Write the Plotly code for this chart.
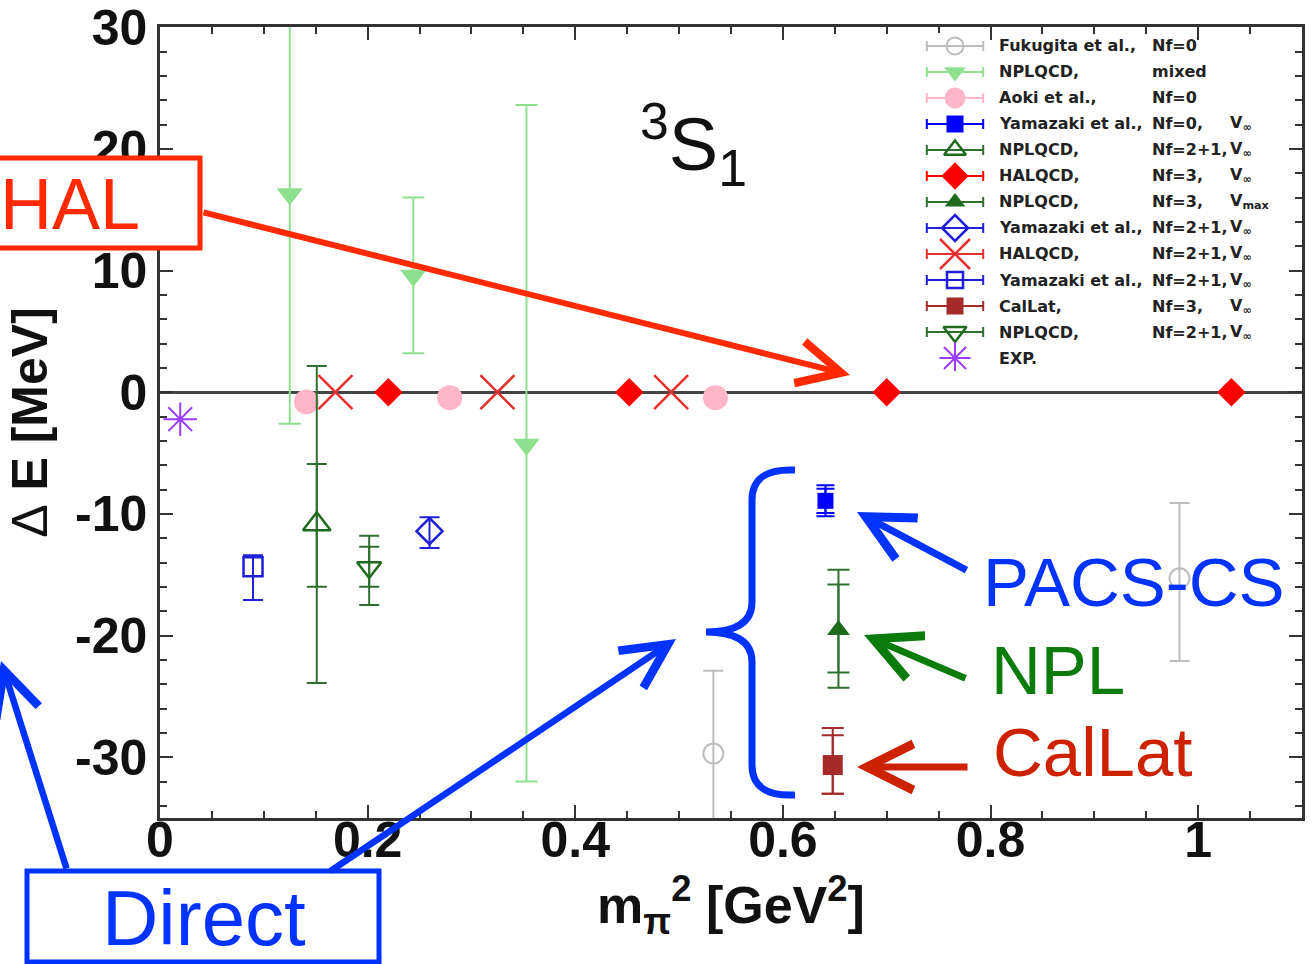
import plotly.graph_objects as go

# ---------------- data ----------------
# x: m_pi^2 [GeV^2], y: Delta E [MeV]
fuk_x = [0.533, 0.982]
fuk_y = [-29.7, -15.3]
fuk_ep = [6.8, 6.2]
fuk_em = [12.0, 6.8]

nplm_x = [0.125, 0.244, 0.353]
nplm_y = [16.3, 9.6, -4.3]
nplm_ep = [18.9, 6.4, 27.9]
nplm_em = [18.9, 6.4, 27.7]

aoki_x = [0.141, 0.279, 0.535]
aoki_y = [-0.8, -0.45, -0.45]

yam0_x = [0.641]
yam0_y = [-8.93]
yam0_ep = [1.29]
yam0_em = [1.27]
yam0_ep_st = [1.0]
yam0_em_st = [1.0]

npl21a_x = [0.151]
npl21a_y = [-10.85]
npl21a_ep = [13.0]
npl21a_em = [13.05]
npl21a_ep_st = [4.95]
npl21a_em_st = [5.15]

hal3_x = [0.220, 0.452, 0.700, 1.032]
hal3_y = [0.0, 0.0, 0.0, 0.0]

npl3_x = [0.6535]
npl3_y = [-19.55]
npl3_ep = [4.95]
npl3_em = [4.75]
npl3_ep_st = [3.75]
npl3_em_st = [3.5]

yam21d_x = [0.2596]
yam21d_y = [-11.42]
yam21d_ep = [1.15]
yam21d_em = [1.38]

hal21_x = [0.169, 0.325, 0.4923]
hal21_y = [0.0, 0.0, 0.0]

yam21s_x = [0.0896]
yam21s_y = [-14.34]
yam21s_ep = [0.94]
yam21s_em = [2.75]

callat_x = [0.648]
callat_y = [-30.65]
callat_ep = [3.05]
callat_em = [2.35]
callat_ep_st = [2.45]
callat_em_st = [2.35]

npl21b_x = [0.2015]
npl21b_y = [-14.4]
npl21b_ep = [2.6]
npl21b_em = [3.1]
npl21b_ep_st = [1.7]
npl21b_em_st = [1.6]

exp_x = [0.0195]
exp_y = [-2.22]

legend_names = ["Fukugita et al.,", "NPLQCD,", "Aoki et al.,", "Yamazaki et al.,",
                "NPLQCD,", "HALQCD,", "NPLQCD,", "Yamazaki et al.,", "HALQCD,",
                "Yamazaki et al.,", "CalLat,", "NPLQCD,", "EXP."]
legend_nf = ["Nf=0", "mixed", "Nf=0", "Nf=0,", "Nf=2+1,", "Nf=3,", "Nf=3,",
             "Nf=2+1,", "Nf=2+1,", "Nf=2+1,", "Nf=3,", "Nf=2+1,", ""]
legend_v = ["", "", "", "V<sub>∞</sub>", "V<sub>∞</sub>", "V<sub>∞</sub>", "V<sub>max</sub>",
            "V<sub>∞</sub>", "V<sub>∞</sub>", "V<sub>∞</sub>", "V<sub>∞</sub>", "V<sub>∞</sub>", ""]

x_range = [0, 1.1]
y_range = [-35, 30.02]
y_tickvals = [-30, -20, -10, 0, 10, 20, 30]
y_ticktext = ["-30", "-20", "-10", "0", "10", "20", "30"]

# ---------------- styles ----------------
GRAY = "#bdbdbd"
LGREEN = "#8ee08e"
PINK = "#ffb7c8"
BLUE = "#0000ff"
BLUE2 = "#1f1fd8"
DGREEN = "#1e6b1e"
DGREEN_E = "#2f6f2f"
RED = "#ff0000"
RED2 = "#e53030"
BROWN = "#a52a2a"
PURPLE = "#9b3dff"

series = [
    dict(x=fuk_x, y=fuk_y, ep=fuk_ep, em=fuk_em, sym="circle-open", size=20, col=GRAY, ecol=GRAY, lw=2, lsize=17, cap=10),
    dict(x=nplm_x, y=nplm_y, ep=nplm_ep, em=nplm_em, sym="triangle-down", size=23, col=LGREEN, ecol=LGREEN, lw=0, lsize=19, cap=11),
    dict(x=aoki_x, y=aoki_y, sym="circle", size=25, col=PINK, ecol=PINK, lw=0, lsize=21, cap=10),
    dict(x=yam0_x, y=yam0_y, ep=yam0_ep, em=yam0_em, eps=yam0_ep_st, ems=yam0_em_st, sym="square", size=16, col=BLUE, ecol=BLUE, lw=0, lsize=17, cap=9),
    dict(x=npl21a_x, y=npl21a_y, ep=npl21a_ep, em=npl21a_em, eps=npl21a_ep_st, ems=npl21a_em_st, sym="triangle-up-open", size=24, col=DGREEN, ecol=DGREEN_E, lw=2.5, lsize=19, cap=10),
    dict(x=hal3_x, y=hal3_y, sym="diamond", size=22, col=RED, ecol=RED, lw=0, lsize=21, cap=10),
    dict(x=npl3_x, y=npl3_y, ep=npl3_ep, em=npl3_em, eps=npl3_ep_st, ems=npl3_em_st, sym="triangle-up", size=20, col=DGREEN, ecol=DGREEN_E, lw=0, lsize=18, cap=11),
    dict(x=yam21d_x, y=yam21d_y, ep=yam21d_ep, em=yam21d_em, sym="diamond-open", size=20, col=BLUE2, ecol=BLUE2, lw=2.5, lsize=20, cap=10),
    dict(x=hal21_x, y=hal21_y, sym="x-thin-open", size=34, col=RED2, ecol=RED2, lw=2.5, lsize=30, cap=10),
    dict(x=yam21s_x, y=yam21s_y, ep=yam21s_ep, em=yam21s_em, sym="square-open", size=19, col=BLUE2, ecol=BLUE2, lw=2.5, lsize=16, cap=10),
    dict(x=callat_x, y=callat_y, ep=callat_ep, em=callat_em, eps=callat_ep_st, ems=callat_em_st, sym="square", size=20, col=BROWN, ecol=BROWN, lw=0, lsize=17, cap=11),
    dict(x=npl21b_x, y=npl21b_y, ep=npl21b_ep, em=npl21b_em, eps=npl21b_ep_st, ems=npl21b_em_st, sym="triangle-down-open", size=21, col=DGREEN, ecol=DGREEN_E, lw=2.5, lsize=20, cap=10),
    dict(x=exp_x, y=exp_y, sym="asterisk-open", size=28, col=PURPLE, ecol=PURPLE, lw=2, lsize=26, cap=0, noleg_bar=True),
]

fig = go.Figure()

for s in series:
    if "eps" in s:
        fig.add_trace(go.Scatter(
            x=s["x"], y=s["y"], mode="markers",
            marker=dict(size=1, color="rgba(0,0,0,0)"),
            error_y=dict(type="data", symmetric=False, array=s["eps"], arrayminus=s["ems"],
                         color=s["ecol"], thickness=2, width=s["cap"]),
            showlegend=False, hoverinfo="skip"))
    ey = None
    if "ep" in s:
        ey = dict(type="data", symmetric=False, array=s["ep"], arrayminus=s["em"],
                  color=s["ecol"], thickness=2, width=s["cap"])
    fig.add_trace(go.Scatter(
        x=s["x"], y=s["y"], mode="markers",
        marker=dict(symbol=s["sym"], size=s["size"], color=s["col"],
                    line=dict(color=s["col"], width=s["lw"] if s["lw"] else 0)),
        error_y=ey, showlegend=False, cliponaxis=True))

# ---- custom legend (glyphs on an auxiliary axis) ----
for i, s in enumerate(series):
    ex = None if s.get("noleg_bar") else dict(type="data", array=[0.47], color=s["ecol"], thickness=2, width=5)
    fig.add_trace(go.Scatter(
        x=[0.5], y=[-i], xaxis="x2", yaxis="y2", mode="markers",
        marker=dict(symbol=s["sym"], size=s["lsize"], color=s["col"],
                    line=dict(color=s["col"], width=s["lw"] if s["lw"] else 0)),
        error_x=ex, showlegend=False, hoverinfo="skip"))

W, H = 1312, 964
ML, MR, MT, MB = 160, 10, 27, 146
PW, PH = W - ML - MR, H - MT - MB


def PX(px):
    return (px - ML) / PW


def PY(py):
    return (H - MB - py) / PH


axis_common = dict(showline=True, linewidth=2.5, linecolor="#333", mirror="allticks",
                   ticks="inside", ticklen=13, tickwidth=2, tickcolor="#333",
                   showgrid=False, ticklabeloverflow="allow", automargin=False,
                   tickfont=dict(family="Liberation Sans, Arial, sans-serif", size=50, color="#111", weight="bold"))

n = len(series)
fig.update_layout(
    width=W, height=H,
    margin=dict(l=ML, r=MR, t=MT, b=MB, pad=0, autoexpand=False),
    paper_bgcolor="white", plot_bgcolor="white",
    showlegend=False,
    xaxis=dict(range=x_range, dtick=0.2, tick0=0, zeroline=False, ticklabelstandoff=-24,
               minor=dict(dtick=0.05, ticks="inside", ticklen=7, tickwidth=1.5, tickcolor="#333"),
               title=dict(text="<b>m<sub>π</sub><sup>2</sup> [GeV<sup>2</sup>]</b>", standoff=8,
                          font=dict(family="Liberation Sans, Arial, sans-serif", size=52, color="#111")),
               **axis_common),
    yaxis=dict(range=y_range, tickvals=y_tickvals, ticktext=y_ticktext,
               zeroline=True, zerolinecolor="#444", zerolinewidth=2.5,
               minor=dict(dtick=2, ticks="inside", ticklen=7, tickwidth=1.5, tickcolor="#333"),
               title=dict(text="<span style='font-weight:normal'>Δ</span><b> E [MeV]</b>", standoff=12,
                          font=dict(family="Liberation Sans, Arial, sans-serif", size=50, color="#111")),
               **axis_common),
    xaxis2=dict(domain=[PX(925), PX(985)], range=[0, 1], anchor="y2", visible=False, fixedrange=True),
    yaxis2=dict(domain=[PY(371), PY(33)], range=[-(n - 0.5), 0.5], anchor="x2", visible=False, fixedrange=True),
)

# legend texts
LF = dict(family="DejaVu Sans, sans-serif", size=16, color="#222", weight="bold")
for i in range(n):
    fig.add_annotation(xref="paper", yref="y2", x=PX(997), y=-i, text=legend_names[i],
                       showarrow=False, xanchor="left", yanchor="middle", font=LF)
    if legend_nf[i]:
        fig.add_annotation(xref="paper", yref="y2", x=PX(1150), y=-i, text=legend_nf[i],
                           showarrow=False, xanchor="left", yanchor="middle", font=LF)
    if legend_v[i]:
        fig.add_annotation(xref="paper", yref="y2", x=PX(1228), y=-i, text=legend_v[i],
                           showarrow=False, xanchor="left", yanchor="middle", font=LF)

# ---- overlay: boxes, brace, labels, arrows ----
HALC = "#ff2a00"
BLUEC = "#0033ff"
GREENC = "#0b7b0b"
REDC = "#cc2200"

fig.add_shape(type="rect", xref="paper", yref="paper", x0=PX(-20), x1=PX(200), y0=PY(248), y1=PY(158),
              line=dict(color=HALC, width=5), fillcolor="white", layer="above")
fig.add_shape(type="rect", xref="paper", yref="paper", x0=PX(27), x1=PX(379), y0=PY(962), y1=PY(871),
              line=dict(color=BLUEC, width=5), fillcolor="white", layer="above")


def P(px, py):
    return f"{PX(px):.5f},{PY(py):.5f}"


brace = ("M " + P(795, 470) + " Q " + P(752, 468) + " " + P(752, 500) +
         " L " + P(752, 602) + " Q " + P(752, 632) + " " + P(706, 632) +
         " Q " + P(752, 632) + " " + P(752, 662) +
         " L " + P(752, 765) + " Q " + P(752, 797) + " " + P(795, 795))
fig.add_shape(type="path", xref="paper", yref="paper", path=brace,
              line=dict(color=BLUEC, width=7), layer="above")

BIG = "Liberation Sans, Arial, sans-serif"


def label(text, cx, cy, color, size):
    fig.add_annotation(xref="paper", yref="paper", x=PX(cx), y=PY(cy), text=text, showarrow=False,
                       xanchor="center", yanchor="middle", font=dict(family=BIG, size=size, color=color))


label("HAL", 70, 204, HALC, 72)
label("Direct", 204, 918, BLUEC, 78)
label("PACS-CS", 1134, 582, BLUEC, 69)
label("NPL", 1058, 670, GREENC, 69)
label("CalLat", 1092, 752, REDC, 69)
label("<sup>3</sup>S<sub>1</sub>", 693, 145, "#111", 74)


def arrow(tail, tip, color, width, size):
    fig.add_annotation(xref="paper", yref="paper", x=PX(tip[0]), y=PY(tip[1]),
                       ax=tail[0] - tip[0], ay=tail[1] - tip[1], axref="pixel", ayref="pixel",
                       text="", showarrow=True, arrowhead=5, arrowsize=size, arrowwidth=width,
                       arrowcolor=color)


arrow((202, 212), (850, 375), HALC, 6, 1.4)
arrow((67, 870), (-6, 661), BLUEC, 6.5, 1.35)
arrow((329, 872), (676, 639), BLUEC, 6.5, 1.35)
arrow((968, 571), (857, 512), BLUEC, 7, 1.3)
arrow((967, 679), (864, 635), GREENC, 7, 1.3)
arrow((969, 767), (857, 767), REDC, 7, 1.3)

fig.write_html("out.html")
